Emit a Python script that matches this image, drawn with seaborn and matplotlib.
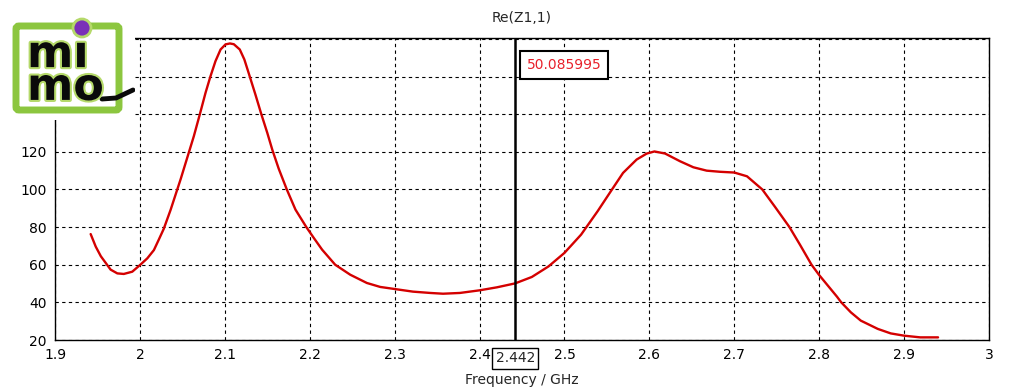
import numpy as np
import pandas as pd
import matplotlib
matplotlib.use("Agg")
import matplotlib.pyplot as plt
import matplotlib.patheffects as pe
from matplotlib.patches import FancyBboxPatch, Circle
import seaborn as sns

# Datos (Re(Z1,1) frente a frecuencia)
freq_ghz = [1.942, 1.948, 1.954, 1.9655, 1.9734, 1.981, 1.991, 2.0, 2.0087, 2.0165,
            2.0224, 2.028, 2.0361, 2.044, 2.048, 2.0565, 2.0635, 2.0706, 2.0773, 2.083,
            2.089, 2.095, 2.1008, 2.106, 2.1106, 2.1176, 2.123, 2.128, 2.136, 2.143,
            2.15, 2.156, 2.1635, 2.173, 2.1832, 2.196, 2.2047, 2.2146, 2.23, 2.2477,
            2.2673, 2.283, 2.3, 2.3216, 2.342, 2.357, 2.3768, 2.4, 2.4205, 2.442,
            2.4616, 2.4812, 2.5, 2.5196, 2.539, 2.556, 2.569, 2.585, 2.597, 2.606,
            2.6185, 2.6361, 2.6518, 2.6675, 2.6832, 2.7, 2.715, 2.733, 2.7479, 2.765,
            2.7773, 2.791, 2.8, 2.821, 2.826, 2.8373, 2.849, 2.869, 2.8843,
            2.9, 2.919, 2.94]
re_z11 = [76.3, 69.6, 64.5, 57.4, 55.4, 55.1, 56.3, 59.8, 63.4, 67.8,
          73.5, 79.0, 89.1, 100.0, 105.5, 118.0, 128.3, 140.0, 151.4, 160.0,
          168.2, 174.4, 177.1, 177.6, 177.2, 174.4, 169.1, 162.0, 150.5, 140.0,
          130.1, 121.0, 111.0, 100.0, 89.3, 80.0, 74.3, 68.0, 60.0, 54.7,
          50.3, 48.2, 47.1, 45.7, 45.0, 44.6, 45.0, 46.4, 48.0, 50.1,
          53.5, 59.1, 66.3, 76.0, 88.4, 100.0, 108.8, 115.9, 119.1, 120.2,
          119.1, 115.0, 111.8, 110.0, 109.4, 109.0, 107.0, 100.0, 90.8, 80.0,
          70.7, 60.0, 54.5, 43.0, 40.0, 34.7, 30.3, 25.9, 23.5,
          22.3, 21.4, 21.4]

x_ticks = [1.9, 2.0, 2.1, 2.2, 2.3, 2.4, 2.5, 2.6, 2.7, 2.8, 2.9, 3.0]
x_tick_labels = ["1.9", "2", "2.1", "2.2", "2.3", "2.4", "2.5", "2.6", "2.7", "2.8", "2.9", "3"]
y_ticks = [20, 40, 60, 80, 100, 120, 140, 160, 180]
# 140-180 quedan tapados por el logo
y_tick_labels = ["20", "40", "60", "80", "100", "120", "", "", ""]

marker_freq = 2.442
marker_value = "50.085995"

df = pd.DataFrame({"freq": freq_ghz, "re": re_z11})

sns.set_style("white")
plt.rcParams["font.family"] = ["DejaVu Sans"]

W, H = 1018, 389
fig = plt.figure(figsize=(W / 100, H / 100), dpi=100)
ax = fig.add_axes([55 / W, 1 - 340 / H, (989 - 55) / W, (340 - 38) / H])

sns.lineplot(data=df, x="freq", y="re", ax=ax, color="#d40000", linewidth=1.7, zorder=3)

ax.set_xlim(1.9, 3.0)
ax.set_ylim(20, 180.5)
ax.set_xticks(x_ticks)
ax.set_xticklabels(x_tick_labels)
ax.set_yticks(y_ticks)
ax.set_yticklabels(y_tick_labels)
ax.tick_params(axis="both", direction="out", length=3, width=1, colors="black",
               labelsize=10, pad=3)
ax.grid(True, color="black", linestyle=(0, (3, 3)), linewidth=0.8)
for s in ax.spines.values():
    s.set_color("black")
    s.set_linewidth(1)
ax.set_xlabel("")
ax.set_ylabel("")

# Marcador
ax.axvline(marker_freq, color="black", linewidth=1.8, zorder=4)
ax.text(2.4995, 166.3, marker_value, color="#e8202a", fontsize=10, ha="center", va="center",
        zorder=5, bbox=dict(boxstyle="square,pad=0.5", fc="white", ec="black", lw=1.5))
ax.text(marker_freq, -0.06, "2.442", transform=ax.get_xaxis_transform(), fontsize=10,
        ha="center", va="center", zorder=5, clip_on=False,
        bbox=dict(boxstyle="square,pad=0.25", fc="white", ec="black", lw=1))

fig.text(522 / W, 1 - 18 / H, "Re(Z1,1)", ha="center", va="center", fontsize=10)
fig.text(522 / W, 1 - 380 / H, "Frequency / GHz", ha="center", va="center", fontsize=10)

# Logo "mimo" (coordenadas en pixeles, eje y invertido)
lg = fig.add_axes([0, 1 - 120 / H, 135 / W, 120 / H], zorder=10)
lg.set_xlim(0, 135)
lg.set_ylim(120, 0)
lg.axis("off")
lg.add_patch(plt.Rectangle((0, 0), 135, 120, fc="white", ec="none"))
lg.add_patch(FancyBboxPatch((16, 26), 103, 84, boxstyle="round,pad=0,rounding_size=3",
                            fc="white", ec="#8cc63f", lw=5))
stroke = [pe.withStroke(linewidth=3, foreground="#b5d96a")]
lg.text(27, 71, "m\u0131\nmo", fontsize=32, fontweight="bold", ha="left", va="center",
        multialignment="left", linespacing=0.7, color="#0a0a0a", path_effects=stroke)
lg.plot([102, 116, 133], [99, 98, 90], color="#0a0a0a", lw=3.5, solid_capstyle="round")
lg.add_patch(Circle((82, 28), 9, fc="#7a2fb8", ec="#b5d96a", lw=2))

fig.savefig("out.png", dpi=100)
plt.close(fig)
